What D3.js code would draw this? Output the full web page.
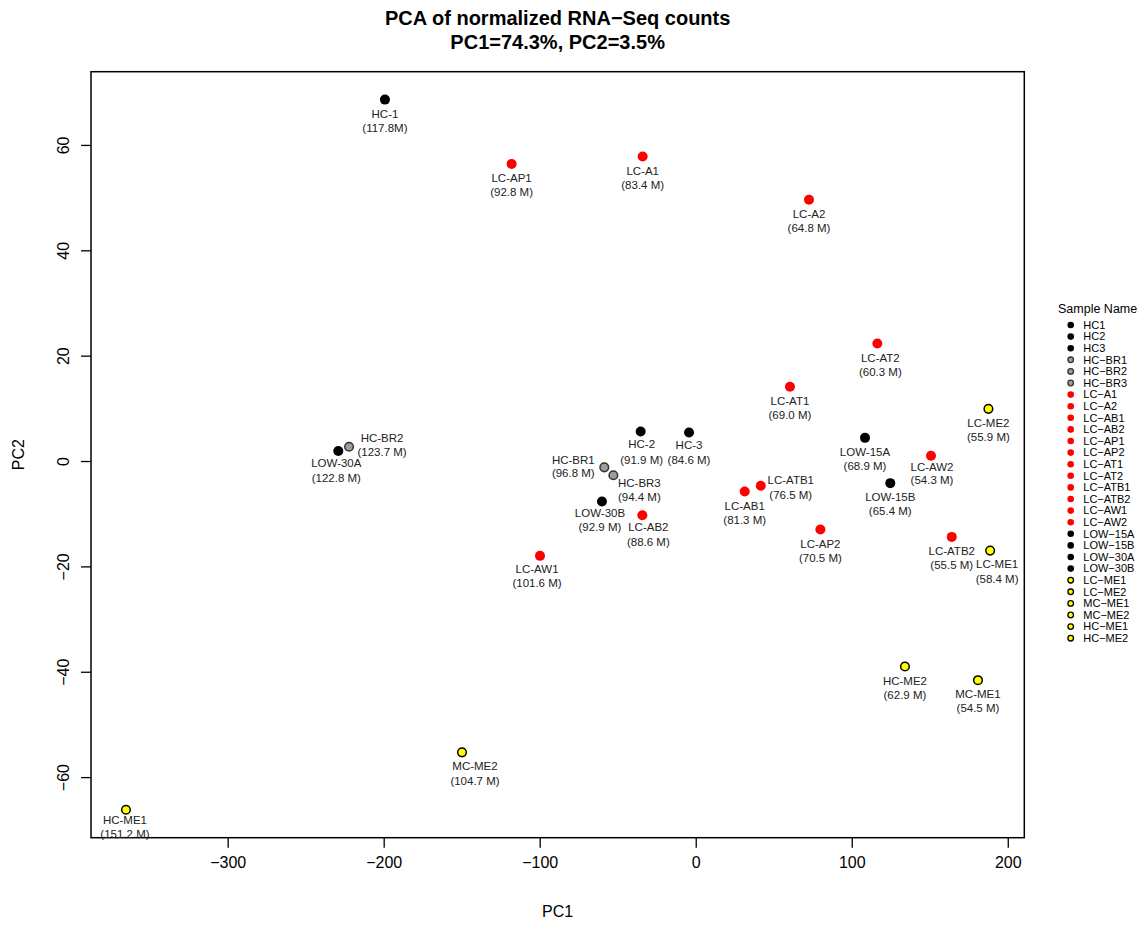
<!DOCTYPE html>
<html>
<head>
<meta charset="utf-8">
<script src="https://cdn.jsdelivr.net/npm/d3@7"></script>
<style>
    body { margin: 0; background: white; }
    svg { font-family: "Liberation Sans", Arial, sans-serif; }
</style>
</head>
<body>
<div id="chart"></div>
<script>
//Sample data
const sampleNames = ["HC-1", "HC-2", "HC-3", "HC-BR1", "HC-BR2", "HC-BR3", "LC-A1", "LC-A2", "LC-AB1", "LC-AB2",
    "LC-AP1", "LC-AP2", "LC-AT1", "LC-AT2", "LC-ATB1", "LC-ATB2", "LC-AW1", "LC-AW2", "LOW-15A", "LOW-15B",
    "LOW-30A", "LOW-30B", "LC-ME1", "LC-ME2", "MC-ME1", "MC-ME2", "HC-ME1", "HC-ME2"];
const pc1 = [-199.2, -35.3, -4.3, -58.6, -222.2, -52.8, -34.0, 72.6, 31.4, -34.2,
    -118.0, 79.9, 60.4, 116.4, 41.7, 164.1, -99.8, 150.8, 108.5, 124.7,
    -229.1, -60.1, 188.7, 187.6, 180.9, -149.8, -365.2, 134.1];
const pc2 = [68.6, 5.6, 5.4, -1.2, 2.7, -2.7, 57.8, 49.6, -5.8, -10.3,
    56.4, -13.0, 14.1, 22.3, -4.7, -14.4, -18.0, 1.0, 4.4, -4.2,
    1.9, -7.7, -17.0, 9.9, -41.6, -55.3, -66.2, -39.0];
const readCounts = ["117.8M", "91.9 M", "84.6 M", "96.8 M", "123.7 M", "94.4 M", "83.4 M", "64.8 M", "81.3 M", "88.6 M",
    "92.8 M", "70.5 M", "69.0 M", "60.3 M", "76.5 M", "55.5 M", "101.6 M", "54.3 M", "68.9 M", "65.4 M",
    "122.8 M", "92.9 M", "58.4 M", "55.9 M", "54.5 M", "104.7 M", "151.2 M", "62.9 M"];
const sampleGroups = ["HC", "HC", "HC", "BR", "BR", "BR", "LC", "LC", "LC", "LC",
    "LC", "LC", "LC", "LC", "LC", "LC", "LC", "LC", "LOW", "LOW",
    "LOW", "LOW", "ME", "ME", "ME", "ME", "ME", "ME"];

//Legend entries (as in the original legend, in that order)
const legendNames = ["HC1", "HC2", "HC3", "HC\u2212BR1", "HC\u2212BR2", "HC\u2212BR3", "LC\u2212A1", "LC\u2212A2",
    "LC\u2212AB1", "LC\u2212AB2", "LC\u2212AP1", "LC\u2212AP2", "LC\u2212AT1", "LC\u2212AT2", "LC\u2212ATB1", "LC\u2212ATB2",
    "LC\u2212AW1", "LC\u2212AW2", "LOW\u221215A", "LOW\u221215B", "LOW\u221230A", "LOW\u221230B", "LC\u2212ME1", "LC\u2212ME2",
    "MC\u2212ME1", "MC\u2212ME2", "HC\u2212ME1", "HC\u2212ME2"];
const legendGroups = ["HC", "HC", "HC", "BR", "BR", "BR", "LC", "LC", "LC", "LC", "LC", "LC", "LC", "LC",
    "LC", "LC", "LC", "LC", "LOW", "LOW", "LOW", "LOW", "ME", "ME", "ME", "ME", "ME", "ME"];

const xTicks = [-300, -200, -100, 0, 100, 200];
const yTicks = [-60, -40, -20, 0, 20, 40, 60];

//Group styling
const groupFill = {HC: "#000000", BR: "#9e9e9e", LC: "#ff0000", LOW: "#000000", ME: "#ffff00"};
const groupStroke = {HC: "none", BR: "#333333", LC: "none", LOW: "none", ME: "#000000"};

//Label placement tweaks (pixels): [dx, dy line 1, dy line 2]
const labelPlace = {
    "LC-ATB1": [30, -6, 9], "HC-BR2": [33, -9, 5], "HC-BR1": [-31, -7, 6], "HC-BR3": [26, 8, 22],
    "LC-ME1": [7, 13, 28], "LC-AB2": [6, 12, 27], "MC-ME2": [13, 14, 29], "HC-ME1": [-1, 10, 24],
    "LC-AT2": [3, 14, 28], "LC-AW2": [1, 11, 24], "HC-3": [0, 12, 27], "HC-2": [1, 12, 28],
    "LOW-30A": [-2, 12, 27], "LOW-30B": [-2, 11, 25], "LC-AW1": [-3, 13, 27]
};

const samples = sampleNames.map((name, i) => ({
    name: name, x: pc1[i], y: pc2[i], reads: readCounts[i], group: sampleGroups[i]
}));

const svg = d3.select("#chart").append("svg")
    .attr("width", 1145)
    .attr("height", 926);

const plotLeft = 91, plotRight = 1024.3, plotTop = 71.7, plotBottom = 837.7;

const xScale = d3.scaleLinear()
    .domain([-387.6, 210.6])
    .range([plotLeft, plotRight]);
const yScale = d3.scaleLinear()
    .domain([-71.5, 73.9])
    .range([plotBottom, plotTop]);

//Title
svg.append("text")
    .attr("x", (plotLeft + plotRight) / 2)
    .attr("y", 25)
    .attr("text-anchor", "middle")
    .style("font-size", "20px")
    .style("font-weight", "bold")
    .text("PCA of normalized RNA\u2212Seq counts");
svg.append("text")
    .attr("x", (plotLeft + plotRight) / 2)
    .attr("y", 49)
    .attr("text-anchor", "middle")
    .style("font-size", "20px")
    .style("font-weight", "bold")
    .text("PC1=74.3%, PC2=3.5%");

//Axes
const xAxisG = svg.append("g")
    .attr("transform", `translate(0, ${plotBottom})`)
    .call(d3.axisBottom(xScale).tickValues(xTicks).tickSize(10).tickSizeOuter(0)
        .tickFormat(d => d < 0 ? "\u2212" + Math.abs(d) : d));
xAxisG.select(".domain").remove();
xAxisG.selectAll("line").attr("stroke", "#000").attr("stroke-width", 1.3);
xAxisG.selectAll("text")
    .attr("y", 25)
    .attr("dy", "0.35em")
    .attr("fill", "#000")
    .style("font-size", "16px")
    .style("font-family", "Liberation Sans, Arial, sans-serif");

const yAxisG = svg.append("g")
    .attr("transform", `translate(${plotLeft}, 0)`)
    .call(d3.axisLeft(yScale).tickValues(yTicks).tickSize(10).tickSizeOuter(0)
        .tickFormat(d => d < 0 ? "\u2212" + Math.abs(d) : d));
yAxisG.select(".domain").remove();
yAxisG.selectAll("line").attr("stroke", "#000").attr("stroke-width", 1.3);
yAxisG.selectAll("text")
    .attr("x", 0)
    .attr("dy", null)
    .attr("text-anchor", "middle")
    .attr("transform", "translate(-28, 0) rotate(-90)")
    .attr("dominant-baseline", "central")
    .attr("fill", "#000")
    .style("font-size", "16px")
    .style("font-family", "Liberation Sans, Arial, sans-serif");

//Axis titles
svg.append("text")
    .attr("x", (plotLeft + plotRight) / 2)
    .attr("y", 917)
    .attr("text-anchor", "middle")
    .style("font-size", "16px")
    .text("PC1");
svg.append("text")
    .attr("transform", `translate(24, ${(plotTop + plotBottom) / 2}) rotate(-90)`)
    .attr("text-anchor", "middle")
    .style("font-size", "16px")
    .text("PC2");

//Plot box
svg.append("rect")
    .attr("x", plotLeft)
    .attr("y", plotTop)
    .attr("width", plotRight - plotLeft)
    .attr("height", plotBottom - plotTop)
    .attr("fill", "none")
    .attr("stroke", "#000")
    .attr("stroke-width", 1.5);

//Points
svg.append("g").selectAll("circle")
    .data(samples)
    .enter()
    .append("circle")
    .attr("cx", d => xScale(d.x))
    .attr("cy", d => yScale(d.y))
    .attr("r", d => groupStroke[d.group] === "none" ? 5 : 4.3)
    .attr("fill", d => groupFill[d.group])
    .attr("stroke", d => groupStroke[d.group])
    .attr("stroke-width", 1.5);

//Point labels
const labels = svg.append("g")
    .style("font-size", "11.5px")
    .attr("fill", "#222");
samples.forEach(d => {
    const place = labelPlace[d.name] || [0, 14, 28];
    const cx = xScale(d.x) + place[0];
    labels.append("text")
        .attr("x", cx)
        .attr("y", yScale(d.y) + place[1])
        .attr("dy", "0.35em")
        .attr("text-anchor", "middle")
        .text(d.name);
    labels.append("text")
        .attr("x", cx)
        .attr("y", yScale(d.y) + place[2])
        .attr("dy", "0.35em")
        .attr("text-anchor", "middle")
        .text("(" + d.reads + ")");
});

//Legend
const legend = svg.append("g")
    .attr("transform", "translate(1058, 309)");
legend.append("text")
    .attr("x", 0)
    .attr("y", 0)
    .attr("dy", "0.35em")
    .style("font-size", "12.5px")
    .text("Sample Name");
legendNames.forEach((name, i) => {
    const g = legendGroups[i];
    legend.append("circle")
        .attr("cx", 12.7)
        .attr("cy", 16 + i * 11.6)
        .attr("r", groupStroke[g] === "none" ? 3.3 : 2.8)
        .attr("fill", groupFill[g])
        .attr("stroke", groupStroke[g])
        .attr("stroke-width", 1.3);
    legend.append("text")
        .attr("x", 25.3)
        .attr("y", 16 + i * 11.6)
        .attr("dy", "0.35em")
        .style("font-size", "11px")
        .text(name);
});
</script>
</body>
</html>
